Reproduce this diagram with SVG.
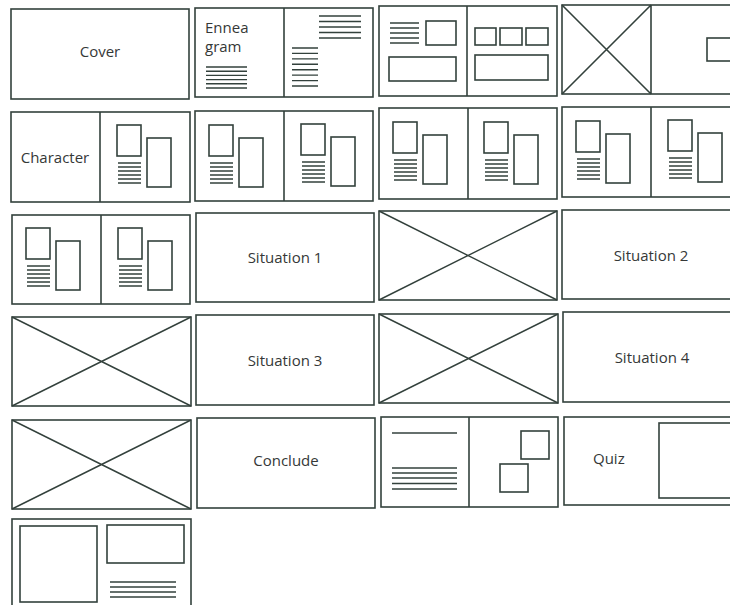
<svg xmlns="http://www.w3.org/2000/svg" xmlns:xlink="http://www.w3.org/1999/xlink" width="730" height="605" viewBox="0 0 730 605">
<style>
.b{fill:none;stroke:#33413c;stroke-width:1.6}
.l{fill:none;stroke:#33413c;stroke-width:1.4}
.t{font-family:"Open Sans","Liberation Sans",sans-serif;font-size:15px;fill:#353837}
.c{text-anchor:middle}
</style>
<defs>
<g id="mod">
<rect class="b" x="0" y="0" width="24" height="31"/>
<path class="l" d="M1 38H24M1 42H24M1 46H24M1 50H24M1 54H24M1 58H24"/>
<rect class="b" x="30" y="13" width="24" height="49"/>
</g>
</defs>
<rect width="730" height="605" fill="#fff"/>

<g id="cover">
<rect class="b" x="11" y="9" width="178" height="90"/>
<text class="t c" x="100" y="57">Cover</text>
</g>

<g id="enneagram">
<rect class="b" x="195" y="8" width="178" height="89"/>
<path class="b" d="M284 8V97"/>
<text class="t" x="205" y="33" font-size="14">Ennea</text>
<text class="t" x="205" y="52" font-size="14">gram</text>
<path class="l" d="M206 67H247M206 71.2H247M206 75.4H247M206 79.6H247M206 83.8H247M206 88H247"/>
<path class="l" d="M319 16H361M319 21.5H361M319 27H361M319 32.5H361M319 38H361"/>
<path class="l" d="M292 48H318M292 53.4H318M292 58.9H318M292 64.3H318M292 69.7H318M292 75.1H318M292 80.6H318M292 86H318"/>
</g>

<g id="spread-r1c3">
<rect class="b" x="379" y="6" width="178" height="90"/>
<path class="b" d="M467 6V96"/>
<path class="l" d="M390 23H419M390 28H419M390 33H419M390 38H419M390 43H419"/>
<rect class="b" x="426" y="21" width="30" height="24"/>
<rect class="b" x="389" y="57" width="67" height="24"/>
<rect class="b" x="475" y="28" width="21" height="17"/>
<rect class="b" x="500" y="28" width="22" height="17"/>
<rect class="b" x="526" y="28" width="22" height="17"/>
<rect class="b" x="475" y="55" width="73" height="25"/>
</g>

<g id="spread-r1c4">
<rect class="b" x="562" y="5" width="180" height="89"/>
<path class="b" d="M651 5V94M562 5L651 94M651 5L562 94"/>
<rect class="b" x="707" y="38" width="24" height="23"/>
</g>

<g id="character">
<rect class="b" x="11" y="112" width="179" height="90"/>
<path class="b" d="M100 112V202"/>
<text class="t c" x="55" y="163" font-size="14.5">Character</text>
<use xlink:href="#mod" x="117" y="125"/>
</g>

<g id="spread-r2c2">
<rect class="b" x="195" y="111" width="178" height="90"/>
<path class="b" d="M284 111V201"/>
<use xlink:href="#mod" x="209" y="125"/>
<use xlink:href="#mod" x="301" y="124"/>
</g>

<g id="spread-r2c3">
<rect class="b" x="379" y="108" width="178" height="91"/>
<path class="b" d="M468 108V199"/>
<use xlink:href="#mod" x="393" y="122"/>
<use xlink:href="#mod" x="484" y="122"/>
</g>

<g id="spread-r2c4">
<rect class="b" x="562" y="107" width="180" height="90"/>
<path class="b" d="M651 107V197"/>
<use xlink:href="#mod" x="576" y="121"/>
<use xlink:href="#mod" x="668" y="120"/>
</g>

<g id="spread-r3c1">
<rect class="b" x="12" y="215" width="178" height="89"/>
<path class="b" d="M101 215V304"/>
<use xlink:href="#mod" x="26" y="228"/>
<use xlink:href="#mod" x="118" y="228"/>
</g>

<g id="situation1">
<rect class="b" x="196" y="213" width="178" height="89"/>
<text class="t c" x="285" y="263">Situation 1</text>
</g>

<g id="image-r3c3">
<rect class="b" x="379" y="211" width="178" height="89"/>
<path class="l" d="M379 211L557 300M557 211L379 300"/>
</g>

<g id="situation2">
<rect class="b" x="562" y="210" width="180" height="89"/>
<text class="t c" x="651" y="261">Situation 2</text>
</g>

<g id="image-r4c1">
<rect class="b" x="12" y="317" width="179" height="89"/>
<path class="l" d="M12 317L191 406M191 317L12 406"/>
</g>

<g id="situation3">
<rect class="b" x="196" y="315" width="178" height="90"/>
<text class="t c" x="285" y="366">Situation 3</text>
</g>

<g id="image-r4c3">
<rect class="b" x="379" y="314" width="179" height="89"/>
<path class="l" d="M379 314L558 403M558 314L379 403"/>
</g>

<g id="situation4">
<rect class="b" x="563" y="312" width="180" height="90"/>
<text class="t c" x="652" y="363">Situation 4</text>
</g>

<g id="image-r5c1">
<rect class="b" x="12" y="420" width="179" height="89"/>
<path class="l" d="M12 420L191 509M191 420L12 509"/>
</g>

<g id="conclude">
<rect class="b" x="197" y="418" width="178" height="90"/>
<text class="t c" x="286" y="466">Conclude</text>
</g>

<g id="spread-r5c3">
<rect class="b" x="381" y="417" width="177" height="90"/>
<path class="b" d="M469 417V507"/>
<path class="l" d="M392 433H457"/>
<path class="l" d="M392 468H457M392 473H457M392 478H457M392 483.5H457M392 489H457"/>
<rect class="b" x="521" y="431" width="28" height="28"/>
<rect class="b" x="500" y="464" width="28" height="28"/>
</g>

<g id="quiz">
<rect class="b" x="564" y="417" width="180" height="88"/>
<text class="t" x="593" y="464">Quiz</text>
<rect class="b" x="659" y="423" width="90" height="75"/>
</g>

<g id="spread-r6c1">
<rect class="b" x="12" y="519" width="179" height="90"/>
<rect class="b" x="20" y="526" width="77" height="76"/>
<rect class="b" x="107" y="525" width="77" height="38"/>
<path class="l" d="M110 582H176M110 587H176M110 592H176M110 597H176"/>
</g>

<g id="connectors"/>
</svg>
